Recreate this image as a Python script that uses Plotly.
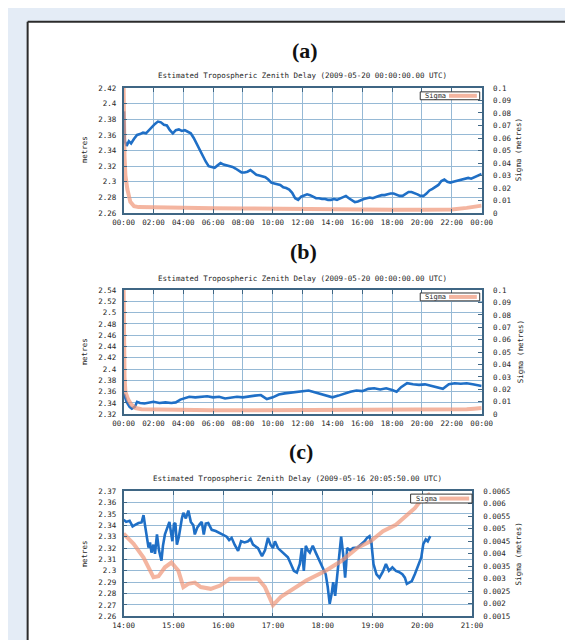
import plotly.graph_objects as go

W, H = 573, 640

# ---------------- data ----------------
# (a) 2009-05-20
a_t = [0.0, 0.03, 0.08, 0.2, 0.35, 0.5, 0.7, 0.9, 1.1, 1.3, 1.5, 1.7, 1.9, 2.1, 2.3, 2.5, 2.7, 2.9, 3.1, 3.3,
       3.5, 3.7, 3.9, 4.1, 4.3, 4.5, 4.7, 4.9, 5.1, 5.3, 5.5, 5.7, 5.9, 6.1, 6.3, 6.5, 6.7, 6.9, 7.1, 7.3,
       7.5, 7.7, 7.9, 8.1, 8.3, 8.5, 8.7, 8.9, 9.1, 9.3, 9.5, 9.7, 9.9, 10.1, 10.3, 10.5, 10.7, 10.9, 11.1, 11.3,
       11.5, 11.7, 11.9, 12.1, 12.3, 12.5, 12.7, 12.9, 13.1, 13.3, 13.5, 13.7, 13.9, 14.1, 14.3, 14.5, 14.7, 14.9,
       15.1, 15.3, 15.5, 15.7, 15.9, 16.1, 16.3, 16.5, 16.7, 16.9, 17.1, 17.3, 17.5, 17.7, 17.9, 18.1, 18.3, 18.5,
       18.7, 18.9, 19.1, 19.3, 19.5, 19.7, 19.9, 20.1, 20.3, 20.5, 20.7, 20.9, 21.1, 21.3, 21.5, 21.7, 21.9, 22.1,
       22.3, 22.5, 22.7, 22.9, 23.1, 23.3, 23.5, 23.7, 23.9, 24.0]
a_ztd = [2.350, 2.390, 2.352, 2.346, 2.352, 2.349, 2.355, 2.360, 2.361, 2.363, 2.362, 2.366, 2.371, 2.374, 2.377,
         2.376, 2.373, 2.372, 2.366, 2.362, 2.366, 2.367, 2.365, 2.366, 2.364, 2.362, 2.356, 2.348, 2.340, 2.333,
         2.326, 2.320, 2.319, 2.318, 2.321, 2.324, 2.322, 2.321, 2.320, 2.319, 2.317, 2.315, 2.312, 2.312, 2.313,
         2.315, 2.312, 2.309, 2.308, 2.307, 2.306, 2.303, 2.299, 2.298, 2.297, 2.296, 2.293, 2.292, 2.290, 2.286,
         2.279, 2.277, 2.281, 2.283, 2.284, 2.283, 2.281, 2.279, 2.279, 2.278, 2.278, 2.277, 2.277, 2.278, 2.277,
         2.279, 2.280, 2.282, 2.279, 2.276, 2.274, 2.275, 2.277, 2.278, 2.279, 2.280, 2.279, 2.281, 2.282, 2.283,
         2.283, 2.284, 2.285, 2.285, 2.283, 2.282, 2.282, 2.285, 2.287, 2.287, 2.286, 2.284, 2.282, 2.282, 2.285,
         2.289, 2.291, 2.293, 2.296, 2.301, 2.303, 2.300, 2.299, 2.300, 2.301, 2.302, 2.303, 2.304, 2.305, 2.304,
         2.306, 2.308, 2.310, 2.310]
a_sig_t = [0.0, 0.02, 0.06, 0.12, 0.25, 0.45, 0.7, 1.0, 2.0, 4.0, 6.0, 8.0, 10.0, 12.0, 14.0, 16.0, 18.0, 20.0,
           22.0, 23.0, 23.5, 24.0]
a_sigma = [0.1, 0.06, 0.045, 0.03, 0.019, 0.009, 0.0055, 0.0048, 0.0045, 0.0042, 0.004, 0.0038, 0.0035, 0.003,
           0.0028, 0.0027, 0.0027, 0.0028, 0.003, 0.0042, 0.0055, 0.006]

# (b) 2009-05-20
b_t = [0.0, 0.05, 0.2, 0.4, 0.55, 0.75, 0.9, 1.1, 1.4, 1.7, 2.0, 2.4, 2.8, 3.2, 3.5, 3.8, 4.1, 4.4, 4.8, 5.2,
       5.6, 6.0, 6.4, 6.8, 7.2, 7.6, 8.0, 8.4, 8.8, 9.2, 9.6, 10.0, 10.4, 10.8, 11.2, 11.6, 12.0, 12.4, 12.8,
       13.2, 13.6, 14.0, 14.4, 14.8, 15.2, 15.6, 16.0, 16.4, 16.8, 17.2, 17.6, 18.0, 18.3, 18.6, 19.0, 19.4,
       19.8, 20.2, 20.6, 21.0, 21.4, 21.8, 22.2, 22.6, 23.0, 23.4, 23.8, 24.0]
b_ztd = [2.356, 2.354, 2.342, 2.333, 2.330, 2.333, 2.342, 2.340, 2.339, 2.341, 2.342, 2.340, 2.341, 2.340, 2.341,
         2.346, 2.349, 2.351, 2.350, 2.351, 2.352, 2.350, 2.351, 2.348, 2.350, 2.351, 2.350, 2.352, 2.353, 2.354,
         2.347, 2.350, 2.355, 2.357, 2.358, 2.360, 2.361, 2.362, 2.359, 2.356, 2.353, 2.350, 2.353, 2.357, 2.360,
         2.362, 2.361, 2.365, 2.366, 2.364, 2.366, 2.363, 2.360, 2.368, 2.375, 2.373, 2.372, 2.373, 2.370, 2.368,
         2.365, 2.373, 2.375, 2.374, 2.375, 2.373, 2.371, 2.370]
b_sig_t = [0.0, 0.02, 0.06, 0.12, 0.3, 0.5, 0.8, 1.2, 3.0, 6.0, 9.0, 12.0, 15.0, 18.0, 21.0, 22.0, 23.0, 23.5, 24.0]
b_sigma = [0.1, 0.06, 0.03, 0.018, 0.012, 0.008, 0.005, 0.004, 0.0035, 0.0033, 0.0032, 0.0032, 0.0032, 0.0032,
           0.0033, 0.0035, 0.004, 0.0045, 0.005]

# (c) 2009-05-16
c_t = [14.00, 14.05, 14.12, 14.18, 14.24, 14.30, 14.36, 14.40, 14.43, 14.47, 14.50, 14.53, 14.56, 14.60, 14.63,
       14.67, 14.71, 14.76, 14.79, 14.83, 14.88, 14.92, 14.95, 14.98, 15.01, 15.04, 15.07, 15.11, 15.17, 15.20,
       15.25, 15.30, 15.35, 15.40, 15.43, 15.48, 15.53, 15.57, 15.61, 15.65, 15.70, 15.77, 15.85, 15.93, 16.00,
       16.07, 16.12, 16.17, 16.23, 16.30, 16.36, 16.43, 16.50, 16.55, 16.60, 16.70, 16.78, 16.84, 16.90, 16.95,
       17.00, 17.04, 17.10, 17.20, 17.30, 17.36, 17.42, 17.48, 17.54, 17.58, 17.62, 17.66, 17.70, 17.74, 17.80,
       17.86, 17.93, 18.00, 18.06, 18.10, 18.14, 18.18, 18.21, 18.25, 18.28, 18.31, 18.34, 18.37, 18.41, 18.45,
       18.47, 18.49, 18.55, 18.61, 18.70, 18.78, 18.84, 18.89, 18.94, 18.98, 19.02, 19.08, 19.14, 19.21, 19.27,
       19.33, 19.40, 19.47, 19.53, 19.60, 19.65, 19.69, 19.75, 19.79, 19.85, 19.90, 19.98, 20.02, 20.07, 20.11,
       20.16]
c_ztd = [2.345, 2.343, 2.344, 2.339, 2.3405, 2.342, 2.3425, 2.349, 2.340, 2.329, 2.3205, 2.325, 2.316, 2.323,
         2.315, 2.332, 2.318, 2.309, 2.322, 2.332, 2.338, 2.343, 2.334, 2.326, 2.341, 2.342, 2.323, 2.330, 2.346,
         2.351, 2.346, 2.353, 2.343, 2.340, 2.332, 2.338, 2.341, 2.343, 2.332, 2.3415, 2.342, 2.336, 2.335, 2.333,
         2.331, 2.330, 2.327, 2.329, 2.323, 2.3175, 2.326, 2.325, 2.326, 2.328, 2.323, 2.320, 2.313, 2.318, 2.329,
         2.323, 2.320, 2.326, 2.320, 2.316, 2.312, 2.306, 2.300, 2.2985, 2.306, 2.320, 2.300, 2.322, 2.318, 2.316,
         2.322, 2.316, 2.309, 2.303, 2.297, 2.286, 2.271, 2.280, 2.290, 2.278, 2.292, 2.306, 2.320, 2.330, 2.315,
         2.294, 2.305, 2.320, 2.318, 2.320, 2.3205, 2.3235, 2.326, 2.329, 2.3305, 2.3235, 2.306, 2.297, 2.294,
         2.2995, 2.306, 2.300, 2.303, 2.300, 2.299, 2.297, 2.294, 2.2886, 2.290, 2.291, 2.297, 2.303, 2.3117,
         2.3235, 2.3276, 2.326, 2.3305]
c_sig_t = [14.00, 14.2, 14.4, 14.6, 14.7, 14.83, 14.96, 15.1, 15.2, 15.3, 15.43, 15.55, 15.75, 15.94, 16.13,
           16.45, 16.7, 16.84, 17.0, 17.16, 17.36, 17.67, 18.06, 18.38, 18.7, 18.96, 19.21, 19.47, 19.66, 19.85,
           19.98, 20.1, 20.16]
c_sigma = [0.0048, 0.0044, 0.00385, 0.00306, 0.0031, 0.00346, 0.00365, 0.00332, 0.00267, 0.0028, 0.00285,
           0.00267, 0.0026, 0.00273, 0.0030, 0.0030, 0.0030, 0.00267, 0.00195, 0.00228, 0.00254, 0.00293,
           0.00332, 0.00372, 0.00424, 0.0045, 0.0049, 0.00516, 0.00549, 0.00582, 0.00615, 0.00634, 0.0064]

# ticks
ab_xticks = [0, 2, 4, 6, 8, 10, 12, 14, 16, 18, 20, 22, 24]
ab_xlabels = ["00:00", "02:00", "04:00", "06:00", "08:00", "10:00", "12:00", "14:00", "16:00", "18:00",
              "20:00", "22:00", "00:00"]
c_xticks = [14, 15, 16, 17, 18, 19, 20, 21]
c_xlabels = ["14:00", "15:00", "16:00", "17:00", "18:00", "19:00", "20:00", "21:00"]
a_yticks = [2.26, 2.28, 2.30, 2.32, 2.34, 2.36, 2.38, 2.40, 2.42]
a_ylabels = ["2.26", "2.28", "2.3", "2.32", "2.34", "2.36", "2.38", "2.4", "2.42"]
b_yticks = [2.32, 2.34, 2.36, 2.38, 2.40, 2.42, 2.44, 2.46, 2.48, 2.50, 2.52, 2.54]
b_ylabels = ["2.32", "2.34", "2.36", "2.38", "2.4", "2.42", "2.44", "2.46", "2.48", "2.5", "2.52", "2.54"]
ab_y2ticks = [0, 0.01, 0.02, 0.03, 0.04, 0.05, 0.06, 0.07, 0.08, 0.09, 0.1]
ab_y2labels = ["0", "0.01", "0.02", "0.03", "0.04", "0.05", "0.06", "0.07", "0.08", "0.09", "0.1"]
c_yticks = [2.26, 2.27, 2.28, 2.29, 2.30, 2.31, 2.32, 2.33, 2.34, 2.35, 2.36, 2.37]
c_ylabels = ["2.26", "2.27", "2.28", "2.29", "2.3", "2.31", "2.32", "2.33", "2.34", "2.35", "2.36", "2.37"]
c_y2ticks = [0.0015, 0.002, 0.0025, 0.003, 0.0035, 0.004, 0.0045, 0.005, 0.0055, 0.006, 0.0065]
c_y2labels = ["0.0015", "0.002", "0.0025", "0.003", "0.0035", "0.004", "0.0045", "0.005", "0.0055",
              "0.006", "0.0065"]

# ---------------- style ----------------
BLUE = "#1f6fc6"
ORANGE = "rgba(240,150,120,0.7)"
BORDER = "#3f6684"
GRID = "#96b9d5"
TXT = "#262626"
MONO = "DejaVu Sans Mono, monospace"
TF = dict(family=MONO, size=7.5, color=TXT)


def px(x):
    return x / W


def py(y):
    return 1 - y / H


fig = go.Figure()

panels = [
    dict(xs="x", ys="y", y2s="y2", t=a_t, z=a_ztd, st=a_sig_t, s=a_sigma),
    dict(xs="x2", ys="y3", y2s="y4", t=b_t, z=b_ztd, st=b_sig_t, s=b_sigma),
    dict(xs="x3", ys="y5", y2s="y6", t=c_t, z=c_ztd, st=c_sig_t, s=c_sigma),
]
for p in panels:
    fig.add_trace(go.Scatter(x=p["st"], y=p["s"], xaxis=p["xs"], yaxis=p["y2s"], mode="lines",
                             line=dict(color=ORANGE, width=4), name="Sigma", showlegend=False))
    fig.add_trace(go.Scatter(x=p["t"], y=p["z"], xaxis=p["xs"], yaxis=p["ys"], mode="lines",
                             line=dict(color=BLUE, width=2.6), name="ZTD", showlegend=False))


def xax(dom_x, anchor, rng, tv, tt):
    return dict(domain=[px(dom_x[0]), px(dom_x[1])], anchor=anchor, range=rng, tickmode="array",
                tickvals=tv, ticktext=tt, showgrid=True, gridcolor=GRID, gridwidth=1, showline=True,
                linecolor=BORDER, linewidth=1.5, mirror="ticks", ticks="inside", ticklen=4,
                tickcolor=BORDER, tickfont=TF, zeroline=False, ticklabelstandoff=1)


def yax(dom_y, anchor, rng, tv, tt):
    return dict(domain=[py(dom_y[1]), py(dom_y[0])], anchor=anchor, range=rng, tickmode="array",
                tickvals=tv, ticktext=tt, showgrid=True, gridcolor=GRID, gridwidth=1, showline=True,
                linecolor=BORDER, linewidth=1.5, mirror=True, ticks="inside", ticklen=4,
                tickcolor=BORDER, tickfont=TF, zeroline=False, ticklabelstandoff=4)


def y2ax(anchor, over, rng, tv, tt):
    return dict(overlaying=over, side="right", anchor=anchor, range=rng, tickmode="array", tickvals=tv,
                ticktext=tt, showgrid=False, showline=True, linecolor=BORDER, linewidth=1.5,
                ticks="inside", ticklen=4, tickcolor=BORDER, tickfont=TF, zeroline=False,
                ticklabelstandoff=8)


fig.update_layout(
    xaxis=xax((109, 482), "y", [0, 24], ab_xticks, ab_xlabels),
    yaxis=yax((77, 204), "x", [2.26, 2.42], a_yticks, a_ylabels),
    yaxis2=y2ax("x", "y", [0, 0.1], ab_y2ticks, ab_y2labels),
    xaxis2=xax((109, 482), "y3", [0, 24], ab_xticks, ab_xlabels),
    yaxis3=yax((282, 408), "x2", [2.32, 2.54], b_yticks, b_ylabels),
    yaxis4=y2ax("x2", "y3", [0, 0.1], ab_y2ticks, ab_y2labels),
    xaxis3=xax((109, 472), "y5", [14, 21], c_xticks, c_xlabels),
    yaxis5=yax((486, 613), "x3", [2.26, 2.37], c_yticks, c_ylabels),
    yaxis6=y2ax("x3", "y5", [0.0015, 0.0065], c_y2ticks, c_y2labels),
)

shapes = [
    dict(type="rect", xref="paper", yref="paper", x0=px(9), x1=1, y0=0, y1=py(10),
         fillcolor="white", line=dict(width=0), layer="below"),
    dict(type="line", xref="paper", yref="paper", x0=px(9), x1=px(9), y0=0, y1=py(10),
         line=dict(color="#2b2b2b", width=2)),
    dict(type="line", xref="paper", yref="paper", x0=px(9), x1=1, y0=py(10), y1=py(10),
         line=dict(color="#2b2b2b", width=2)),
]
annotations = []

titles = [("(a)", 298, 39), ("(b)", 296, 243), ("(c)", 294, 446)]
for txt, cx, cy in titles:
    annotations.append(dict(text="<b>" + txt + "</b>", x=px(cx), y=py(cy), xref="paper", yref="paper",
                            showarrow=False,
                            font=dict(family="Liberation Serif, serif", size=22, color="#111"),
                            xanchor="center", yanchor="middle"))

subs = [("Estimated Tropospheric Zenith Delay (2009-05-20 00:00:00.00 UTC)", 295, 64),
        ("Estimated Tropospheric Zenith Delay (2009-05-20 00:00:00.00 UTC)", 295, 270),
        ("Estimated Tropospheric Zenith Delay (2009-05-16 20:05:50.00 UTC)", 290, 473)]
for txt, cx, cy in subs:
    annotations.append(dict(text=txt, x=px(cx), y=py(cy), xref="paper", yref="paper", showarrow=False,
                            font=dict(family=MONO, size=7.5, color=TXT), xanchor="center", yanchor="middle"))

for cy, rx in [(140, 520), (345, 522), (550, 520)]:
    annotations.append(dict(text="metres", x=px(68), y=py(cy), xref="paper", yref="paper", showarrow=False,
                            textangle=-90, font=TF, xanchor="center", yanchor="middle"))
    annotations.append(dict(text="Sigma (metres)", x=px(rx), y=py(cy), xref="paper", yref="paper",
                            showarrow=False, textangle=-90, font=TF, xanchor="center", yanchor="middle"))

# key boxes
for (x0, x1, y0, y1) in [(418, 480, 81, 89), (418, 480, 285, 293), (408, 472, 489, 498)]:
    shapes.append(dict(type="rect", xref="paper", yref="paper", x0=px(x0), x1=px(x1), y0=py(y1), y1=py(y0),
                       fillcolor="white", line=dict(color="#333", width=1)))
    shapes.append(dict(type="line", xref="paper", yref="paper", x0=px(x0 + 30), x1=px(x1 - 3),
                       y0=py((y0 + y1) / 2), y1=py((y0 + y1) / 2), line=dict(color=ORANGE, width=4)))
    annotations.append(dict(text="Sigma", x=px(x0 + 3), y=py((y0 + y1) / 2), xref="paper", yref="paper",
                            showarrow=False, font=dict(family=MONO, size=7, color=TXT),
                            xanchor="left", yanchor="middle"))

fig.update_layout(
    width=W, height=H, margin=dict(l=0, r=0, t=0, b=0),
    paper_bgcolor="#e4ecf6", plot_bgcolor="rgba(0,0,0,0)",
    shapes=shapes, annotations=annotations, showlegend=False,
)

fig.write_html("out.html")
